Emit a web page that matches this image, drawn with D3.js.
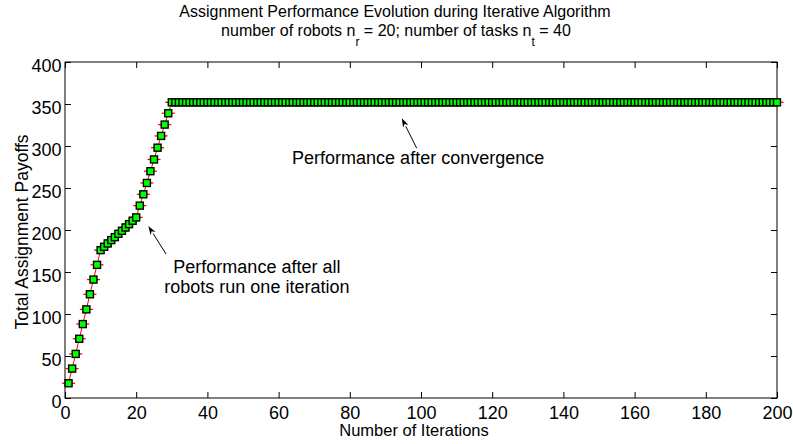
<!DOCTYPE html>
<html>
<head>
<meta charset="utf-8">
<script src="https://cdn.jsdelivr.net/npm/d3@7"></script>
<style>
  html, body { margin: 0; padding: 0; background: #fff; }
  svg { display: block; font-family: "Liberation Sans", Arial, sans-serif; }
</style>
</head>
<body>
<svg id="chart" width="793" height="444"></svg>
<script>
// ---- data ----
const iterations = [
  1,2,3,4,5,6,7,8,9,10,11,12,13,14,15,16,17,18,19,20,
  21,22,23,24,25,26,27,28,29,30,31,32,33,34,35,36,37,38,39,40,
  41,42,43,44,45,46,47,48,49,50,51,52,53,54,55,56,57,58,59,60,
  61,62,63,64,65,66,67,68,69,70,71,72,73,74,75,76,77,78,79,80,
  81,82,83,84,85,86,87,88,89,90,91,92,93,94,95,96,97,98,99,100,
  101,102,103,104,105,106,107,108,109,110,111,112,113,114,115,116,117,118,119,120,
  121,122,123,124,125,126,127,128,129,130,131,132,133,134,135,136,137,138,139,140,
  141,142,143,144,145,146,147,148,149,150,151,152,153,154,155,156,157,158,159,160,
  161,162,163,164,165,166,167,168,169,170,171,172,173,174,175,176,177,178,179,180,
  181,182,183,184,185,186,187,188,189,190,191,192,193,194,195,196,197,198,199,200
];
const payoffs = [
  17.6,35,52.5,70.5,88,105.5,123.5,141,158.5,176,180,184,188,191.5,195.5,199,203,207,211,215,
  229,242.5,256,270,284,298,312,325.5,339,352,352,352,352,352,352,352,352,352,352,352,
  352,352,352,352,352,352,352,352,352,352,352,352,352,352,352,352,352,352,352,352,
  352,352,352,352,352,352,352,352,352,352,352,352,352,352,352,352,352,352,352,352,
  352,352,352,352,352,352,352,352,352,352,352,352,352,352,352,352,352,352,352,352,
  352,352,352,352,352,352,352,352,352,352,352,352,352,352,352,352,352,352,352,352,
  352,352,352,352,352,352,352,352,352,352,352,352,352,352,352,352,352,352,352,352,
  352,352,352,352,352,352,352,352,352,352,352,352,352,352,352,352,352,352,352,352,
  352,352,352,352,352,352,352,352,352,352,352,352,352,352,352,352,352,352,352,352,
  352,352,352,352,352,352,352,352,352,352,352,352,352,352,352,352,352,352,352,352
];
const xTicks = [0,20,40,60,80,100,120,140,160,180,200];
const yTicks = [0,50,100,150,200,250,300,350,400];
const titleLine1 = "Assignment Performance Evolution during Iterative Algorithm";
const xLabel = "Number of Iterations";
const yLabel = "Total Assignment Payoffs";
const annotations = [
  { lines: ["Performance after all", "robots run one iteration"], tx: 53.9, ty: 148.8,
    tip: [23.4, 204.8], tail: [28.4, 171.4] },
  { lines: ["Performance after convergence"], tx: 99.2, ty: 278.6,
    tip: [94.6, 333], tail: [98.8, 297.3] }
];

// ---- layout ----
const svg = d3.select("#chart");
const L = 65, R = 777, T = 62, B = 398;
const x = d3.scaleLinear().domain([0, 200]).range([L, R]);
const y = d3.scaleLinear().domain([0, 400]).range([B, T]);
const pts = iterations.map((it, i) => ({ it, v: payoffs[i] }));

// ---- axes box ----
const tickLen = 6;
const gx = svg.append("g").attr("transform", `translate(0,${B})`)
  .call(d3.axisBottom(x).tickValues(xTicks).tickSizeInner(-tickLen).tickSizeOuter(0));
const gxt = svg.append("g").attr("transform", `translate(0,${T})`)
  .call(d3.axisTop(x).tickValues(xTicks).tickSizeInner(-tickLen).tickSizeOuter(0).tickFormat(""));
const gy = svg.append("g").attr("transform", `translate(${L},0)`)
  .call(d3.axisLeft(y).tickValues(yTicks).tickSizeInner(-tickLen).tickSizeOuter(0));
const gyr = svg.append("g").attr("transform", `translate(${R},0)`)
  .call(d3.axisRight(y).tickValues(yTicks).tickSizeInner(-tickLen).tickSizeOuter(0).tickFormat(""));
[gx, gxt, gy, gyr].forEach(g => {
  g.select(".domain").remove();
  g.selectAll(".tick line").attr("stroke", "#000").attr("stroke-width", 1);
  g.selectAll(".tick text").attr("fill", "#000").style("font-size", "18px")
    .style("font-family", "'Liberation Sans', Arial, sans-serif");
});
gx.selectAll(".tick text").attr("dy", null).attr("y", 20.5);
gy.selectAll(".tick text").attr("dy", null).attr("y", 9).attr("x", -3.5);
svg.append("rect").attr("x", L).attr("y", T).attr("width", R - L).attr("height", B - T)
  .attr("fill", "none").attr("stroke", "#000").attr("stroke-width", 1);

// ---- series ----
const line = d3.line().x(d => x(d.it)).y(d => y(d.v));
svg.append("path").datum(pts).attr("d", line)
  .attr("fill", "none").attr("stroke", "#ff0000").attr("stroke-width", 1);
const cap = 6.5;
svg.append("g").selectAll("path.cap").data(pts).join("path")
  .attr("d", d => `M${x(d.it) - cap},${y(d.v)}H${x(d.it) + cap}`)
  .attr("stroke", "#ff0000").attr("stroke-width", 1.3).attr("fill", "none");
const sq = 7;
svg.append("g").selectAll("rect.sq").data(pts).join("rect")
  .attr("x", d => x(d.it) - sq / 2).attr("y", d => y(d.v) - sq / 2)
  .attr("width", sq).attr("height", sq)
  .attr("fill", "#00ff00").attr("stroke", "#000").attr("stroke-width", 1.4);

// ---- annotations ----
annotations.forEach(a => {
  const x1 = x(a.tail[0]), y1 = y(a.tail[1]), x2 = x(a.tip[0]), y2 = y(a.tip[1]);
  const ang = Math.atan2(y2 - y1, x2 - x1);
  const hl = 9, hw = 3;
  const bx = x2 - hl * Math.cos(ang), by = y2 - hl * Math.sin(ang);
  svg.append("line").attr("x1", x1).attr("y1", y1).attr("x2", bx).attr("y2", by)
    .attr("stroke", "#000").attr("stroke-width", 1);
  const px = -Math.sin(ang) * hw, py = Math.cos(ang) * hw;
  const backX = x2 - (hl * 0.7) * Math.cos(ang), backY = y2 - (hl * 0.7) * Math.sin(ang);
  svg.append("path")
    .attr("d", `M${x2},${y2}L${bx + px},${by + py}L${backX},${backY}L${bx - px},${by - py}Z`)
    .attr("fill", "#000");
  a.lines.forEach((t, i) => {
    svg.append("text").attr("x", x(a.tx)).attr("y", y(a.ty) + i * 20)
      .attr("text-anchor", "middle").style("font-size", "18px").attr("fill", "#000").text(t);
  });
});

// ---- titles ----
svg.append("text").attr("x", 395).attr("y", 17).attr("text-anchor", "middle")
  .style("font-size", "16px").text(titleLine1);
const t2 = svg.append("text").attr("x", 396).attr("y", 36).attr("text-anchor", "middle")
  .style("font-size", "16px");
t2.append("tspan").text("number of robots n");
t2.append("tspan").attr("dy", 10).style("font-size", "12px").text("r");
t2.append("tspan").attr("dy", -10).text(" = 20; number of tasks n");
t2.append("tspan").attr("dy", 10).style("font-size", "12px").text("t");
t2.append("tspan").attr("dy", -10).text(" = 40");

svg.append("text").attr("x", 414).attr("y", 436).attr("text-anchor", "middle")
  .style("font-size", "16.5px").text(xLabel);
svg.append("text").attr("transform", "translate(28,232) rotate(-90)").attr("text-anchor", "middle")
  .style("font-size", "17.5px").text(yLabel);
</script>
</body>
</html>
